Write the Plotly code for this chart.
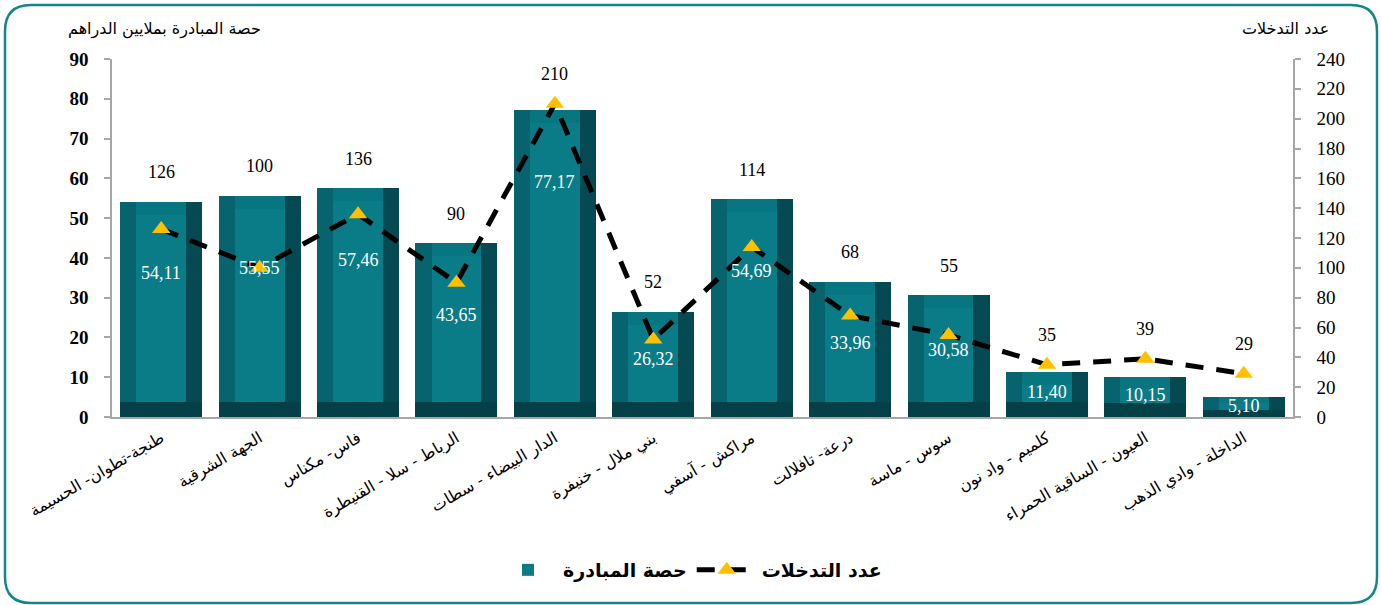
import plotly.graph_objects as go

# ---------------- data ----------------
regions = [
    "طنجة-تطوان- الحسيمة",
    "الجهة الشرقية",
    "فاس- مكناس",
    "الرباط - سلا - القنيطرة",
    "الدار البيضاء - سطات",
    "بني ملال - خنيفرة",
    "مراكش - آسفي",
    "درعة- تافلالت",
    "سوس - ماسة",
    "كلميم - واد نون",
    "العيون - الساقية الحمراء",
    "الداخلة - وادي الذهب",
]
share_mdh = [54.11, 55.55, 57.46, 43.65, 77.17, 26.32, 54.69, 33.96, 30.58, 11.40, 10.15, 5.10]
interventions = [126, 100, 136, 90, 210, 52, 114, 68, 55, 35, 39, 29]

bar_name = "حصة المبادرة"
line_name = "عدد التدخلات"
left_title = "حصة المبادرة بملايين الدراهم"
right_title = "عدد التدخلات"
left_ticks = list(range(0, 91, 10))
right_ticks = list(range(0, 241, 20))

# ---------------- layout geometry ----------------
W_PX, H_PX = 1381, 605
ML, MR, MT, MB = 112, 88, 59, 188
PW = W_PX - ML - MR
PH = H_PX - MT - MB
Y1MAX, Y2MAX = 90, 240


def px2paper(px, py):
    return (px - ML) / PW, (H_PX - MB - py) / PH


SERIF = "Liberation Serif"
ARABIC = "DejaVu Sans"

# bevel parameters (category units / data units)
BW = 0.833
SIDE = 0.163
BOT = 3.77
TOP = 3.27

bot_h = [min(BOT, v * 0.35) for v in share_mdh]
top_h = [min(TOP, v * 0.30) for v in share_mdh]

fig = go.Figure()
common = dict(x=regions, hoverinfo="skip", marker_line_width=0)
fig.add_trace(go.Bar(y=share_mdh, width=BW, offset=-BW / 2,
                     marker_color="#054a53", showlegend=False, **common))
fig.add_trace(go.Bar(y=share_mdh, width=BW - SIDE, offset=-BW / 2,
                     marker_color="#07636d", showlegend=False, **common))
fig.add_trace(go.Bar(y=bot_h, width=BW, offset=-BW / 2,
                     marker_color="#053f47", showlegend=False, **common))
fig.add_trace(go.Bar(y=top_h, base=[v - t for v, t in zip(share_mdh, top_h)],
                     width=BW - 2 * SIDE, offset=-BW / 2 + SIDE,
                     marker_color="#087681", showlegend=False, **common))
fig.add_trace(go.Bar(y=[v - t - b for v, t, b in zip(share_mdh, top_h, bot_h)],
                     base=bot_h, width=BW - 2 * SIDE, offset=-BW / 2 + SIDE,
                     marker_color="#0a7c87", name=bar_name, showlegend=True,
                     legendrank=1, **common))

fig.add_trace(go.Scatter(
    x=regions, y=interventions, yaxis="y2", mode="lines+markers",
    name=line_name, legendrank=2, hoverinfo="skip",
    line=dict(color="black", width=5, dash="18px,13px"),
    marker=dict(symbol="triangle-up", size=16, color="#FFC000", line_width=0),
))

annotations = []
# bar value labels (white)
for cat, v in zip(regions, share_mdh):
    annotations.append(dict(
        x=cat, y=max(v - 18, v * 0.55), xref="x", yref="y",
        text=f"{v:.2f}".replace(".", ","), showarrow=False,
        font=dict(family=SERIF, size=18, color="white"),
        xanchor="center", yanchor="middle"))
# line value labels (black)
for cat, v, n in zip(regions, share_mdh, interventions):
    annotations.append(dict(
        x=cat, y=max(n, v * Y2MAX / Y1MAX) + 20, xref="x", yref="y2",
        text=str(n), showarrow=False,
        font=dict(family=SERIF, size=18, color="black"),
        xanchor="center", yanchor="middle"))
# axis titles
lx, ly = px2paper(164, 29)
rx, ry = px2paper(1285, 29)
annotations.append(dict(x=lx, y=ly, xref="paper", yref="paper", text=left_title,
                        showarrow=False, font=dict(family=ARABIC, size=16, color="black"),
                        xanchor="center", yanchor="middle"))
annotations.append(dict(x=rx, y=ry, xref="paper", yref="paper", text=right_title,
                        showarrow=False, font=dict(family=ARABIC, size=16, color="black"),
                        xanchor="center", yanchor="middle"))

# rounded border
x0, y0, x1, y1, r = 5, 5, 1377, 603, 26


def P(px, py):
    a, b = px2paper(px, py)
    return f"{a:.5f},{b:.5f}"


path = (f"M {P(x0 + r, y0)} L {P(x1 - r, y0)} Q {P(x1, y0)} {P(x1, y0 + r)} "
        f"L {P(x1, y1 - r)} Q {P(x1, y1)} {P(x1 - r, y1)} "
        f"L {P(x0 + r, y1)} Q {P(x0, y1)} {P(x0, y1 - r)} "
        f"L {P(x0, y0 + r)} Q {P(x0, y0)} {P(x0 + r, y0)} Z")

lgx, lgy = px2paper(690, 570)

fig.update_layout(
    width=W_PX, height=H_PX,
    margin=dict(l=ML, r=MR, t=MT, b=MB, autoexpand=False),
    paper_bgcolor="white", plot_bgcolor="white",
    barmode="overlay", bargap=0,
    showlegend=True,
    legend=dict(orientation="h", x=lgx, y=lgy, xanchor="center", yanchor="middle",
                font=dict(family=ARABIC, size=19, color="black", weight="bold"),
                itemwidth=60, traceorder="normal", bgcolor="rgba(0,0,0,0)"),
    xaxis=dict(type="category", range=[-0.5, len(regions) - 0.5],
               showline=True, linecolor="#a6a6a6", linewidth=1.5,
               ticks="", showgrid=False, tickangle=-30, ticklabelstandoff=4,
               tickfont=dict(family=ARABIC, size=16, color="black")),
    yaxis=dict(range=[0, Y1MAX], tickvals=left_ticks, showgrid=False, zeroline=False,
               showline=True, linecolor="#a6a6a6", linewidth=1.5,
               ticks="outside", ticklen=6, tickcolor="#a6a6a6", tickwidth=1.5,
               ticklabelstandoff=12,
               tickfont=dict(family=SERIF, size=19, color="black", weight="bold")),
    yaxis2=dict(range=[0, Y2MAX], tickvals=right_ticks, overlaying="y", side="right",
                showgrid=False, zeroline=False,
                showline=True, linecolor="#a6a6a6", linewidth=1.5,
                ticks="outside", ticklen=6, tickcolor="#a6a6a6", tickwidth=1.5,
                ticklabelstandoff=12,
                tickfont=dict(family=SERIF, size=19, color="black")),
    annotations=annotations,
    shapes=[dict(type="path", path=path, xref="paper", yref="paper",
                 line=dict(color="#13868d", width=2.5), fillcolor="rgba(0,0,0,0)",
                 layer="above")],
)

fig.write_html("out.html", config={"displayModeBar": False},
               post_script="document.body.style.margin='0';document.body.style.overflow='hidden';")
